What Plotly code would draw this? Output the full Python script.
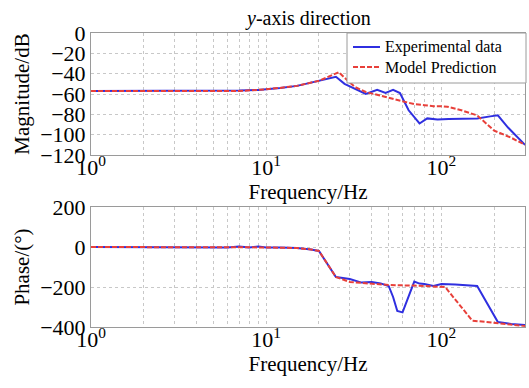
import plotly.graph_objects as go

# ---- data ----
f_exp_mag = [1, 2, 3, 5, 7, 9, 10, 12, 15, 18, 20, 22, 25, 28, 32, 37, 43, 48, 53, 58, 65, 75, 83, 95, 110, 130, 160, 190, 210, 240, 275, 300]
mag_exp = [-57, -57, -57, -57, -56.5, -56, -55, -54, -52, -49, -47, -45, -43, -50, -55, -60, -56, -59, -56, -59, -76, -89, -84, -85, -84.5, -84.5, -84, -82, -81, -93, -104, -110]

f_model_mag = [1, 2, 3, 5, 7, 9, 10, 12, 15, 18, 20, 22, 25, 26, 28, 32, 37, 43, 50, 60, 70, 80, 90, 100, 108, 130, 160, 200, 250, 300]
mag_model = [-57, -57, -57, -57, -57, -56, -55.5, -54, -52, -49, -47, -44, -40, -38.5, -44, -53, -58, -61, -64, -67, -70, -71, -72, -72, -72.5, -76, -81, -96, -103, -110]

f_exp_ph = [1, 3, 5, 6, 7, 8, 9, 10, 12, 15, 18, 20, 25, 30, 35, 40, 45, 50, 53, 56, 60, 65, 70, 75, 80, 90, 100, 120, 160, 210, 250, 300]
ph_exp = [0, 0, 0, -3, 2, -3, 2, -3, -3, -5, -12, -20, -150, -160, -178, -175, -182, -195, -250, -320, -327, -250, -173, -183, -185, -195, -185, -188, -195, -375, -385, -390]

f_model_ph = [1, 5, 10, 15, 18, 20, 25, 30, 40, 50, 70, 100, 105, 150, 200, 250, 300]
ph_model = [0, 0, -2, -5, -12, -20, -150, -175, -185, -190, -193, -198, -200, -368, -380, -388, -395]

series_names = ["Experimental data", "Model Prediction"]
decades = [1, 10, 100]
decade_labels = ["10<sup>0</sup>", "10<sup>1</sup>", "10<sup>2</sup>"]
mag_ticks = [0, -20, -40, -60, -80, -100, -120]
phase_ticks = [200, 0, -200, -400]

# ---- figure ----
grid_vals = [m * d for d in decades for m in range(1, 10) if m * d <= 300]
grid_text = [decade_labels[decades.index(v)] if v in decades else "" for v in grid_vals]

BLUE = "#2f2fe0"
RED = "#e8403a"
DASH = "5px,2px"
FONT = "Liberation Serif"
W, H = 529, 388
ML, MR, MT, MB = 91, 4, 33, 61
PW, PH = W - ML - MR, H - MT - MB


def px_x(p):
    return (p - ML) / PW


def px_y(p):
    return (H - MB - p) / PH


fig = go.Figure()
fig.add_trace(go.Scatter(x=f_exp_mag, y=mag_exp, mode="lines", name=series_names[0],
                         line=dict(color=BLUE, width=2), xaxis="x", yaxis="y", showlegend=False))
fig.add_trace(go.Scatter(x=f_model_mag, y=mag_model, mode="lines", name=series_names[1],
                         line=dict(color=RED, width=2, dash=DASH), xaxis="x", yaxis="y", showlegend=False))
fig.add_trace(go.Scatter(x=f_exp_ph, y=ph_exp, mode="lines", name=series_names[0], showlegend=False,
                         line=dict(color=BLUE, width=2), xaxis="x2", yaxis="y2"))
fig.add_trace(go.Scatter(x=f_model_ph, y=ph_model, mode="lines", name=series_names[1], showlegend=False,
                         line=dict(color=RED, width=2, dash=DASH), xaxis="x2", yaxis="y2"))

xcommon = dict(type="log", range=[0, 2.4771], tickvals=grid_vals, ticktext=grid_text,
               showgrid=True, gridcolor="#c8c8c8", griddash="dot", gridwidth=1,
               showline=True, linecolor="#9a9a9a", linewidth=1, mirror=True,
               ticks="", tickfont=dict(size=22, family=FONT, color="black"),
               ticklabelstandoff=-7, zeroline=False)
ycommon = dict(showgrid=True, gridcolor="#c8c8c8", griddash="dot", gridwidth=1,
               showline=True, linecolor="#9a9a9a", linewidth=1, mirror=True,
               ticks="", tickfont=dict(size=22, family=FONT, color="black"),
               zeroline=False)

top_dom = [px_y(155), 1]
bot_dom = [0, px_y(207)]

# legend (drawn manually to match the reference's compact box)
lx0, lx1, ly0, ly1 = 347, 526, 33, 83
shapes = [
    dict(type="rect", xref="paper", yref="paper", x0=px_x(lx0), x1=px_x(lx1), y0=px_y(ly1), y1=px_y(ly0),
         line=dict(color="#9a9a9a", width=1), fillcolor="white", layer="above"),
    dict(type="line", xref="paper", yref="paper", x0=px_x(353), x1=px_x(380), y0=px_y(47), y1=px_y(47),
         line=dict(color=BLUE, width=2), layer="above"),
    dict(type="line", xref="paper", yref="paper", x0=px_x(353), x1=px_x(380), y0=px_y(67), y1=px_y(67),
         line=dict(color=RED, width=2, dash=DASH), layer="above"),
]
annotations = [
    dict(text="<i>y</i>-axis direction", x=0.5, y=1, xref="paper", yref="paper",
         xanchor="center", yanchor="bottom", yshift=1, showarrow=False,
         font=dict(size=20, family=FONT, color="black")),
    dict(text=series_names[0], x=px_x(383), y=px_y(47), xref="paper", yref="paper",
         xanchor="left", yanchor="middle", showarrow=False,
         font=dict(size=16, family=FONT, color="black")),
    dict(text=series_names[1], x=px_x(383), y=px_y(67), xref="paper", yref="paper",
         xanchor="left", yanchor="middle", showarrow=False,
         font=dict(size=16, family=FONT, color="black")),
]

fig.update_layout(
    width=W, height=H,
    margin=dict(l=ML, r=MR, t=MT, b=MB),
    paper_bgcolor="white", plot_bgcolor="white",
    font=dict(family=FONT, color="black"),
    showlegend=False,
    xaxis=dict(xcommon, domain=[0, 1], anchor="y",
               title=dict(text="Frequency/Hz", font=dict(size=21, family=FONT), standoff=0)),
    yaxis=dict(ycommon, domain=top_dom, range=[-120, 0], tickvals=mag_ticks, anchor="x",
               title=dict(text="Magnitude/dB", font=dict(size=21, family=FONT), standoff=4)),
    xaxis2=dict(xcommon, domain=[0, 1], anchor="y2",
                title=dict(text="Frequency/Hz", font=dict(size=21, family=FONT), standoff=0)),
    yaxis2=dict(ycommon, domain=bot_dom, range=[-400, 200], tickvals=phase_ticks, anchor="x2",
                title=dict(text="Phase/(°)", font=dict(size=21, family=FONT), standoff=4)),
    shapes=shapes,
    annotations=annotations,
)

fig.write_html("out.html")
